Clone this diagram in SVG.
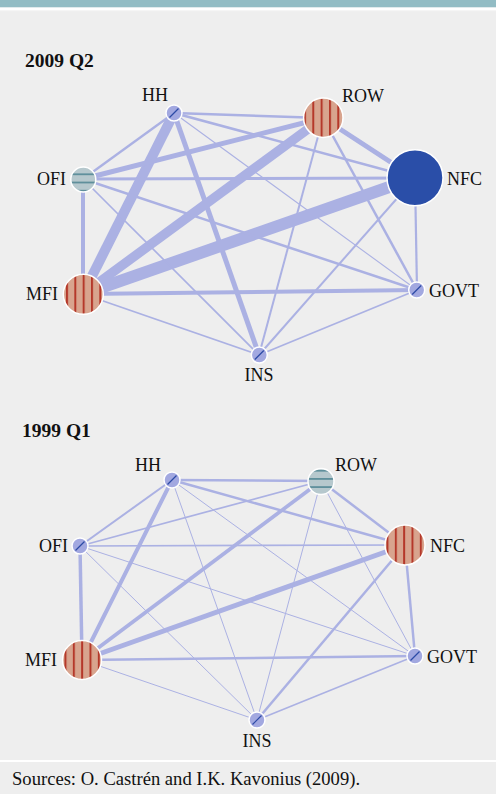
<svg xmlns="http://www.w3.org/2000/svg" xmlns:xlink="http://www.w3.org/1999/xlink" width="496" height="794" viewBox="0 0 496 794">
<style>
.lbl{font-family:"Liberation Serif","Times New Roman",serif;font-size:18px;fill:#111}
.ttl{font-family:"Liberation Serif","Times New Roman",serif;font-size:19.5px;font-weight:bold;fill:#111}
.src{font-family:"Liberation Serif","Times New Roman",serif;font-size:18.6px;fill:#111}
.e{stroke:#abb1e3;fill:none;stroke-linecap:butt}
.n{stroke:#ffffff;stroke-width:1.5}
.dg{stroke:#2c4aa6;stroke-width:1.2}
</style>
<defs>
<pattern id="red" patternUnits="userSpaceOnUse" width="8.33" height="10">
<rect width="8.33" height="10" fill="#d8a48e"/>
<rect x="0" width="2" height="10" fill="#b5382a"/>
</pattern>
<pattern id="redROW09" href="#red" xlink:href="#red" x="312.3"/>
<pattern id="redMFI09" href="#red" xlink:href="#red" x="66"/>
<pattern id="redMFI99" href="#red" xlink:href="#red" x="64.5"/>
<pattern id="redNFC99" href="#red" xlink:href="#red" x="386.5"/>
<pattern id="teal" patternUnits="userSpaceOnUse" width="10" height="8.2">
<rect width="10" height="8.2" fill="#b6c8cd"/>
<rect y="0" width="10" height="1.8" fill="#5e8f9b"/>
</pattern>
<pattern id="tealOFI09" href="#teal" xlink:href="#teal" y="173.4"/>
<pattern id="tealROW99" href="#teal" xlink:href="#teal" y="469.8"/>
</defs>
<rect width="496" height="794" fill="#eeeeee"/>
<rect width="496" height="7.5" fill="#92bcc4"/>
<rect y="7.5" width="496" height="2.5" fill="#ffffff"/>
<rect y="10" width="496" height="1.2" fill="#f5f5f5"/>
<rect y="760" width="496" height="2" fill="#ffffff"/>

<text class="ttl" x="25" y="67">2009 Q2</text>
<text class="ttl" x="22" y="437">1999 Q1</text>

<g id="edges2009">
<line class="e" x1="174" y1="113" x2="323" y2="118" stroke-width="2.5"/>
<line class="e" x1="174" y1="113" x2="415" y2="178" stroke-width="2.5"/>
<line class="e" x1="174" y1="113" x2="83" y2="179" stroke-width="2.3"/>
<line class="e" x1="174" y1="113" x2="83" y2="294" stroke-width="10"/>
<line class="e" x1="174" y1="113" x2="417" y2="290" stroke-width="1.1"/>
<line class="e" x1="174" y1="113" x2="259" y2="355" stroke-width="5"/>
<line class="e" x1="323" y1="118" x2="415" y2="178" stroke-width="5"/>
<line class="e" x1="323" y1="118" x2="83" y2="179" stroke-width="5"/>
<line class="e" x1="323" y1="118" x2="83" y2="294" stroke-width="9.5"/>
<line class="e" x1="323" y1="118" x2="417" y2="290" stroke-width="2.5"/>
<line class="e" x1="323" y1="118" x2="259" y2="355" stroke-width="2"/>
<line class="e" x1="415" y1="178" x2="83" y2="179" stroke-width="3"/>
<line class="e" x1="415" y1="178" x2="83" y2="294" stroke-width="12"/>
<line class="e" x1="415" y1="178" x2="417" y2="290" stroke-width="2.2"/>
<line class="e" x1="415" y1="178" x2="259" y2="355" stroke-width="2"/>
<line class="e" x1="83" y1="179" x2="83" y2="294" stroke-width="4"/>
<line class="e" x1="83" y1="179" x2="417" y2="290" stroke-width="2.5"/>
<line class="e" x1="83" y1="179" x2="259" y2="355" stroke-width="1.7"/>
<line class="e" x1="83" y1="294" x2="417" y2="290" stroke-width="4"/>
<line class="e" x1="83" y1="294" x2="259" y2="355" stroke-width="1.7"/>
<line class="e" x1="417" y1="290" x2="259" y2="355" stroke-width="1.7"/>
</g>

<g id="edges1999">
<line class="e" x1="172" y1="480" x2="321" y2="481" stroke-width="2.5"/>
<line class="e" x1="172" y1="480" x2="405" y2="545" stroke-width="2.5"/>
<line class="e" x1="172" y1="480" x2="80" y2="546" stroke-width="2"/>
<line class="e" x1="172" y1="480" x2="82" y2="660" stroke-width="4"/>
<line class="e" x1="172" y1="480" x2="415" y2="656" stroke-width="1"/>
<line class="e" x1="172" y1="480" x2="257" y2="720" stroke-width="1"/>
<line class="e" x1="321" y1="481" x2="405" y2="545" stroke-width="2.5"/>
<line class="e" x1="321" y1="481" x2="80" y2="546" stroke-width="1.7"/>
<line class="e" x1="321" y1="481" x2="82" y2="660" stroke-width="3.7"/>
<line class="e" x1="321" y1="481" x2="415" y2="656" stroke-width="1"/>
<line class="e" x1="321" y1="481" x2="257" y2="720" stroke-width="1"/>
<line class="e" x1="405" y1="545" x2="80" y2="546" stroke-width="1.7"/>
<line class="e" x1="405" y1="545" x2="82" y2="660" stroke-width="5"/>
<line class="e" x1="405" y1="545" x2="415" y2="656" stroke-width="2.5"/>
<line class="e" x1="405" y1="545" x2="257" y2="720" stroke-width="2.5"/>
<line class="e" x1="80" y1="546" x2="82" y2="660" stroke-width="3.5"/>
<line class="e" x1="80" y1="546" x2="415" y2="656" stroke-width="1"/>
<line class="e" x1="80" y1="546" x2="257" y2="720" stroke-width="1"/>
<line class="e" x1="82" y1="660" x2="415" y2="656" stroke-width="2.5"/>
<line class="e" x1="82" y1="660" x2="257" y2="720" stroke-width="1"/>
<line class="e" x1="415" y1="656" x2="257" y2="720" stroke-width="1.5"/>
</g>

<g id="HH09"><circle class="n" cx="174" cy="113" r="8" fill="#a2a8e0"/><line class="dg" x1="169.5" y1="117.5" x2="178.5" y2="108.5"/><text class="lbl" x="168" y="101" text-anchor="end">HH</text></g>
<g id="ROW09"><circle class="n" cx="323.3" cy="117.7" r="19.7" fill="url(#redROW09)"/><text class="lbl" x="342" y="102">ROW</text></g>
<g id="NFC09"><circle class="n" cx="415" cy="177.7" r="28" fill="#2a4ea8"/><text class="lbl" x="447" y="185">NFC</text></g>
<g id="OFI09"><circle class="n" cx="83.3" cy="179.5" r="12.5" fill="url(#tealOFI09)"/><text class="lbl" x="66" y="185" text-anchor="end">OFI</text></g>
<g id="MFI09"><circle class="n" cx="83.3" cy="294.3" r="20" fill="url(#redMFI09)"/><text class="lbl" x="58" y="300" text-anchor="end">MFI</text></g>
<g id="GOVT09"><circle class="n" cx="416.7" cy="290" r="8" fill="#a2a8e0"/><line class="dg" x1="412.2" y1="294.5" x2="421.2" y2="285.5"/><text class="lbl" x="429" y="297">GOVT</text></g>
<g id="INS09"><circle class="n" cx="259.3" cy="355" r="8" fill="#a2a8e0"/><line class="dg" x1="254.8" y1="359.5" x2="263.8" y2="350.5"/><text class="lbl" x="259" y="381" text-anchor="middle">INS</text></g>

<g id="HH99"><circle class="n" cx="172" cy="480" r="8" fill="#a2a8e0"/><line class="dg" x1="167.5" y1="484.5" x2="176.5" y2="475.5"/><text class="lbl" x="161" y="471" text-anchor="end">HH</text></g>
<g id="ROW99"><circle class="n" cx="321" cy="481.5" r="13" fill="url(#tealROW99)"/><text class="lbl" x="335" y="471">ROW</text></g>
<g id="NFC99"><circle class="n" cx="405" cy="545" r="20" fill="url(#redNFC99)"/><text class="lbl" x="430" y="552">NFC</text></g>
<g id="OFI99"><circle class="n" cx="80" cy="546" r="8" fill="#a2a8e0"/><line class="dg" x1="75.5" y1="550.5" x2="84.5" y2="541.5"/><text class="lbl" x="68" y="552" text-anchor="end">OFI</text></g>
<g id="MFI99"><circle class="n" cx="82" cy="660" r="19.5" fill="url(#redMFI99)"/><text class="lbl" x="57" y="666" text-anchor="end">MFI</text></g>
<g id="GOVT99"><circle class="n" cx="415" cy="656" r="8" fill="#a2a8e0"/><line class="dg" x1="410.5" y1="660.5" x2="419.5" y2="651.5"/><text class="lbl" x="427" y="663">GOVT</text></g>
<g id="INS99"><circle class="n" cx="257" cy="720" r="8" fill="#a2a8e0"/><line class="dg" x1="252.5" y1="724.5" x2="261.5" y2="715.5"/><text class="lbl" x="257" y="747" text-anchor="middle">INS</text></g>

<text class="src" x="12" y="785">Sources: O. Castrén and I.K. Kavonius (2009).</text>
</svg>
